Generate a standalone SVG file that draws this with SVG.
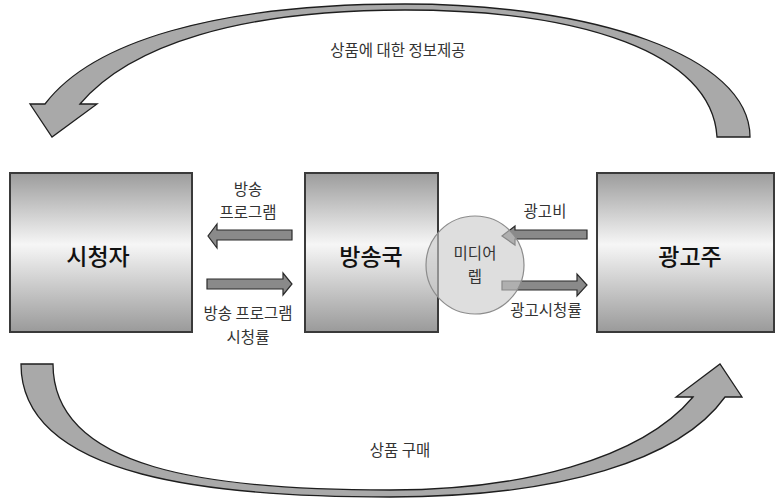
<svg xmlns="http://www.w3.org/2000/svg" width="783" height="498" viewBox="0 0 783 498">
<defs>
<linearGradient id="boxg" x1="0" y1="0" x2="0" y2="1">
<stop offset="0" stop-color="#9c9c9c"/>
<stop offset="0.45" stop-color="#f6f6f6"/>
<stop offset="1" stop-color="#9a9a9a"/>
</linearGradient>
</defs>
<style>
.box{fill:url(#boxg);stroke:#3a3a3a;stroke-width:2}
.big{fill:#a9a9a9;stroke:#1e1e1e;stroke-width:1.3;stroke-linejoin:miter}
.small{fill:#8a8a8a;stroke:#2a2a2a;stroke-width:1.2}
.lbl{font-family:"Noto Sans CJK KR","Noto Sans",sans-serif;font-size:15.5px;fill:#333;text-anchor:middle}
.node{font-family:"Noto Sans CJK KR","Noto Sans",sans-serif;font-size:23px;font-weight:500;fill:#111;text-anchor:middle}
</style>
<rect width="783" height="498" fill="#fff"/>
<g id="connectors">
<path class="big" d="M750,137 C750,55 590,4 405,4 C215,4 92,42 45,104 L30,104 L52,137 L97,104 L80,104 C130,45 240,10 405,10 C580,10 712,52 717,137 Z"/>
<path class="big" d="M21,364 C21,480 220,497 390,497 C560,497 680,460 725,397 L742,397 L720,364 L676,397 L693,397 C640,460 520,490 390,490 C210,490 53,470 53,364 Z"/>
<path class="small" d="M292,230 L217,230 L217,224 L208,236 L217,248 L217,240 L292,240 Z"/>
<path class="small" d="M207,279 L283,279 L283,273 L292,284 L283,295 L283,289 L207,289 Z"/>
<path class="small" d="M587,230 L515,230 L515,226 L502,236 L515,245 L515,239 L587,239 Z"/>
<path class="small" d="M502,281 L577,281 L577,274 L587,285 L577,296 L577,290 L502,290 Z"/>
<text class="lbl" x="398" y="56">상품에 대한 정보제공</text>
<text class="lbl" x="400" y="456">상품 구매</text>
<text class="lbl" x="248" y="195">방송</text>
<text class="lbl" x="248" y="217.5">프로그램</text>
<text class="lbl" x="248" y="319">방송 프로그램</text>
<text class="lbl" x="248" y="343">시청률</text>
<text class="lbl" x="545" y="217">광고비</text>
<text class="lbl" x="546" y="316">광고시청률</text>
</g>
<g id="viewer">
<rect class="box" x="10" y="173" width="182" height="159"/>
<text class="node" x="98" y="265">시청자</text>
</g>
<g id="broadcaster">
<rect class="box" x="305" y="173" width="133" height="159"/>
<text class="node" x="371" y="265">방송국</text>
</g>
<g id="advertiser">
<rect class="box" x="597" y="173" width="177" height="159"/>
<text class="node" x="690" y="265">광고주</text>
</g>
<g id="mediarep">
<ellipse cx="475" cy="265" rx="49" ry="49" fill="#c8c8c8" fill-opacity="0.6" stroke="#8c8c8c" stroke-width="1.2"/>
<text class="lbl" x="475" y="259">미디어</text>
<text class="lbl" x="475" y="281.5">렙</text>
</g>
</svg>
